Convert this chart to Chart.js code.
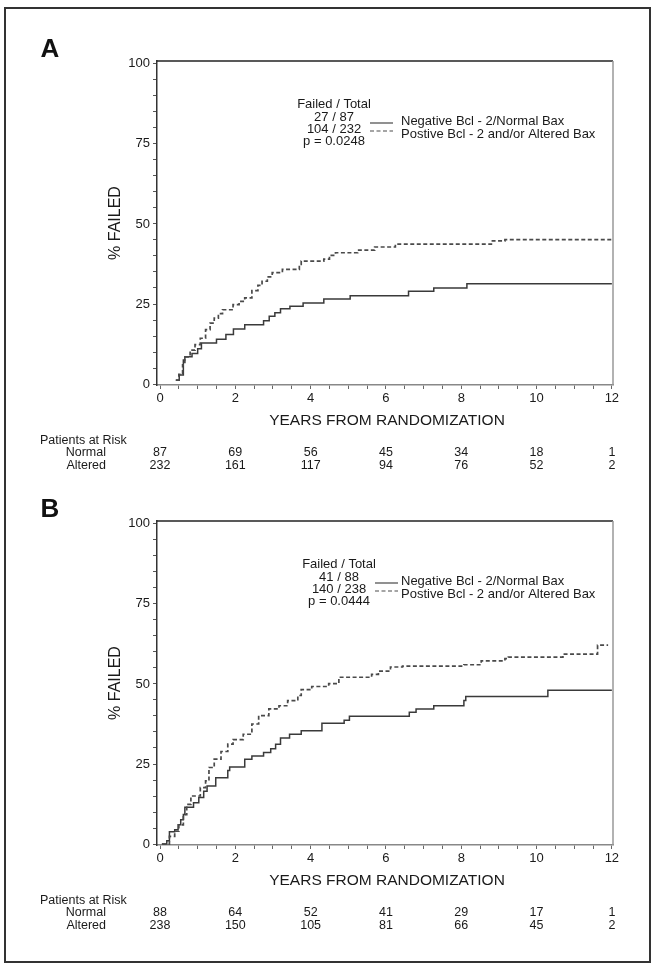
<!DOCTYPE html>
<html>
<head>
<meta charset="utf-8">
<title>Bcl-2 / Bax failure curves</title>
<script src="https://cdn.jsdelivr.net/npm/chart.js@4.4.1/dist/chart.umd.min.js"></script>
<style>
  body { margin: 0; background: #fff; }
  #page { position: relative; width: 654px; height: 968px; overflow: hidden; }
  #frame { position: absolute; left: 4px; top: 7px; width: 647px; height: 956px; border: 2px solid #333; box-sizing: border-box; }
  canvas { position: absolute; left: 0; }
  #chartA { top: 0; }
  #chartB { top: 460px; }
</style>
</head>
<body>
<div id="page">
  <div id="frame"></div>
  <canvas id="chartA" width="654" height="490"></canvas>
  <canvas id="chartB" width="654" height="490"></canvas>
</div>
<script>
// axis ticks
var xTicks = [0, 0.5, 1, 1.5, 2, 2.5, 3, 3.5, 4, 4.5, 5, 5.5, 6, 6.5, 7, 7.5, 8, 8.5, 9, 9.5, 10, 10.5, 11, 11.5, 12];
var xLabels = [0, 2, 4, 6, 8, 10, 12];
var yTicks = [0, 5, 10, 15, 20, 25, 30, 35, 40, 45, 50, 55, 60, 65, 70, 75, 80, 85, 90, 95, 100];
var yLabels = [0, 25, 50, 75, 100];
var riskYears = [0, 2, 4, 6, 8, 10, 12];
var seriesNames = ['Negative Bcl - 2/Normal Bax', 'Postive Bcl - 2 and/or Altered Bax'];

// Panel A
var normalA_years = [0.42, 0.51, 0.62, 0.66, 0.85, 1.0, 1.1, 1.5, 1.75, 1.95, 2.25, 2.75, 2.9, 3.05, 3.2, 3.45, 3.8, 4.35, 5.05, 6.6, 7.27, 8.15, 12.0];
var normalA_pct   = [1.2, 2.8, 7.5, 8.5, 9.5, 11.0, 12.8, 14.0, 15.5, 17.2, 18.5, 19.8, 21.2, 22.3, 23.5, 24.3, 25.3, 26.6, 27.6, 29.0, 30.0, 31.3, 31.3];
var alteredA_years = [0.42, 0.5, 0.6, 0.66, 0.8, 0.93, 1.07, 1.21, 1.33, 1.44, 1.55, 1.66, 1.94, 2.1, 2.25, 2.44, 2.6, 2.71, 2.85, 2.98, 3.25, 3.7, 3.75, 4.35, 4.5, 4.66, 5.25, 5.7, 6.25, 8.8, 9.16, 12.0];
var alteredA_pct   = [1.2, 3.0, 6.0, 8.5, 10.6, 12.3, 14.3, 17.0, 19.0, 20.6, 22.0, 23.2, 24.8, 25.8, 26.9, 29.2, 30.8, 32.1, 33.5, 34.8, 35.8, 37.4, 38.4, 39.0, 40.2, 41.0, 41.8, 42.8, 43.7, 44.7, 45.1, 45.1];
var riskNormalA  = [87, 69, 56, 45, 34, 18, 1];
var riskAlteredA = [232, 161, 117, 94, 76, 52, 2];
var countsA = ['27 / 87', '104 / 232'];
var pValueA = 'p = 0.0248';

// Panel B
var normalB_years = [0.05, 0.18, 0.25, 0.39, 0.48, 0.55, 0.62, 0.66, 0.89, 1.03, 1.16, 1.25, 1.48, 1.8, 1.85, 2.25, 2.44, 2.75, 2.94, 3.07, 3.2, 3.44, 3.75, 4.3, 4.89, 5.03, 6.62, 6.8, 7.27, 8.07, 8.12, 10.3, 12.0];
var normalB_pct   = [0, 1.0, 3.8, 4.5, 6.0, 7.6, 9.2, 11.5, 12.9, 14.5, 16.5, 18.1, 20.7, 23.0, 24.1, 26.5, 27.5, 28.6, 29.8, 31.2, 33.1, 34.3, 35.4, 37.7, 38.7, 39.9, 41.2, 42.2, 43.2, 44.8, 46.1, 48.0, 48.0];
var alteredB_years = [0.05, 0.25, 0.39, 0.5, 0.62, 0.71, 0.82, 1.07, 1.21, 1.3, 1.44, 1.62, 1.8, 1.94, 2.21, 2.44, 2.62, 2.89, 3.16, 3.39, 3.66, 3.75, 4.03, 4.48, 4.75, 5.62, 5.8, 6.12, 6.44, 8.07, 8.53, 9.16, 9.25, 10.7, 11.62, 11.9];
var alteredB_pct   = [0, 2.4, 4.0, 6.0, 9.2, 12.4, 15.0, 17.6, 19.7, 23.9, 26.5, 28.9, 31.2, 32.6, 34.3, 37.5, 40.1, 42.2, 43.2, 44.8, 46.4, 48.2, 49.2, 50.1, 52.1, 53.0, 54.0, 55.3, 55.6, 56.0, 57.2, 57.9, 58.4, 59.3, 62.1, 62.1];
var riskNormalB  = [88, 64, 52, 41, 29, 17, 1];
var riskAlteredB = [238, 150, 105, 81, 66, 45, 2];
var countsB = ['41 / 88', '140 / 238'];
var pValueB = 'p = 0.0444';

var FONT = '"Liberation Sans", Arial, Helvetica, sans-serif';
Chart.defaults.font.family = FONT;
Chart.defaults.color = '#222';

function pts(xs, ys) {
    return xs.map(function(x, i) { return { x: x, y: ys[i] }; });
}

// texts, frame and risk table drawn on top of the chart
var panelText = {
    id: 'panelText',
    afterDraw: function(chart, args, o) {
        var ctx = chart.ctx, a = chart.chartArea, xs = chart.scales.x;
        ctx.save();
        // closing the box
        ctx.lineWidth = 1.5;
        ctx.strokeStyle = '#222';
        ctx.beginPath(); ctx.moveTo(a.left, a.top); ctx.lineTo(a.right, a.top); ctx.stroke();
        ctx.strokeStyle = '#999';
        ctx.beginPath(); ctx.moveTo(a.right, a.top); ctx.lineTo(a.right, a.bottom); ctx.stroke();

        ctx.fillStyle = '#111';
        ctx.textBaseline = 'middle';
        ctx.textAlign = 'center';
        ctx.font = 'bold 26px ' + FONT;
        ctx.fillText(o.letter, 50, 50);

        // axis titles
        ctx.fillStyle = '#1a1a1a';
        ctx.font = '15.5px ' + FONT;
        ctx.fillText('YEARS FROM RANDOMIZATION', 387, 421);
        ctx.save();
        ctx.translate(116, 223);
        ctx.rotate(-Math.PI / 2);
        ctx.font = '16px ' + FONT;
        ctx.fillText('% FAILED', 0, 0);
        ctx.restore();

        // legend block
        ctx.font = '13px ' + FONT;
        ctx.fillText('Failed / Total', o.fx, 104);
        ctx.fillText(o.counts[0], o.fx, 117);
        ctx.fillText(o.counts[1], o.fx, 129);
        ctx.fillText(o.p, o.fx, 141);
        ctx.textAlign = 'left';
        ctx.fillText(seriesNames[0], 401, 121);
        ctx.fillText(seriesNames[1], 401, 134);
        ctx.lineWidth = 1.3;
        ctx.strokeStyle = '#555';
        ctx.beginPath(); ctx.moveTo(o.lx, 123); ctx.lineTo(o.lx + 23, 123); ctx.stroke();
        ctx.strokeStyle = '#888';
        ctx.setLineDash([4, 2.5]);
        ctx.beginPath(); ctx.moveTo(o.lx, 131); ctx.lineTo(o.lx + 23, 131); ctx.stroke();
        ctx.setLineDash([]);

        // patients at risk
        ctx.font = '12.5px ' + FONT;
        ctx.fillText('Patients at Risk', 40, 441);
        ctx.textAlign = 'right';
        ctx.fillText('Normal', 106, 453);
        ctx.fillText('Altered', 106, 466);
        ctx.textAlign = 'center';
        riskYears.forEach(function(t, i) {
            var px = xs.getPixelForValue(t);
            ctx.fillText(String(o.riskNormal[i]), px, 453);
            ctx.fillText(String(o.riskAltered[i]), px, 466);
        });
        ctx.restore();
    }
};

function makePanel(id, normal, altered, extra) {
    var ctx = document.getElementById(id).getContext('2d');
    return new Chart(ctx, {
        type: 'line',
        data: {
            datasets: [{
                label: seriesNames[1],
                data: altered,
                stepped: 'before',
                borderColor: '#4a4a4a',
                borderWidth: 1.7,
                borderDash: [4, 2.5],
                pointRadius: 0,
                fill: false
            }, {
                label: seriesNames[0],
                data: normal,
                stepped: 'before',
                borderColor: '#3a3a3a',
                borderWidth: 1.5,
                pointRadius: 0,
                fill: false
            }]
        },
        options: {
            responsive: false,
            animation: false,
            events: [],
            layout: { padding: { left: 0, top: 61, right: 41, bottom: 0 } },
            scales: {
                x: {
                    type: 'linear',
                    min: -0.08,
                    max: 12.03,
                    afterFit: function(s) { s.height = 105; },
                    afterBuildTicks: function(s) { s.ticks = xTicks.map(function(v) { return { value: v }; }); },
                    ticks: {
                        autoSkip: false,
                        maxRotation: 0,
                        padding: 2,
                        font: { size: 13 },
                        color: '#1a1a1a',
                        callback: function(v) { return xLabels.indexOf(v) >= 0 ? String(v) : ''; }
                    },
                    grid: { drawOnChartArea: false, tickLength: 4, color: '#666', tickWidth: 1 },
                    border: { color: '#888', width: 1.5 }
                },
                y: {
                    type: 'linear',
                    min: -0.3,
                    max: 100.9,
                    afterFit: function(s) { s.width = 157; },
                    afterBuildTicks: function(s) { s.ticks = yTicks.map(function(v) { return { value: v }; }); },
                    ticks: {
                        autoSkip: false,
                        padding: 3,
                        font: { size: 13 },
                        color: '#1a1a1a',
                        callback: function(v) { return yLabels.indexOf(v) >= 0 ? String(v) : ''; }
                    },
                    grid: { drawOnChartArea: false, tickLength: 4, color: '#555', tickWidth: 1 },
                    border: { color: '#333', width: 1.5 }
                }
            },
            plugins: {
                legend: { display: false },
                tooltip: { enabled: false },
                panelText: extra
            }
        },
        plugins: [panelText]
    });
}

makePanel('chartA', pts(normalA_years, normalA_pct), pts(alteredA_years, alteredA_pct), {
    letter: 'A', counts: countsA, p: pValueA, fx: 334, lx: 370,
    riskNormal: riskNormalA, riskAltered: riskAlteredA
});
makePanel('chartB', pts(normalB_years, normalB_pct), pts(alteredB_years, alteredB_pct), {
    letter: 'B', counts: countsB, p: pValueB, fx: 339, lx: 375,
    riskNormal: riskNormalB, riskAltered: riskAlteredB
});
</script>
</body>
</html>
